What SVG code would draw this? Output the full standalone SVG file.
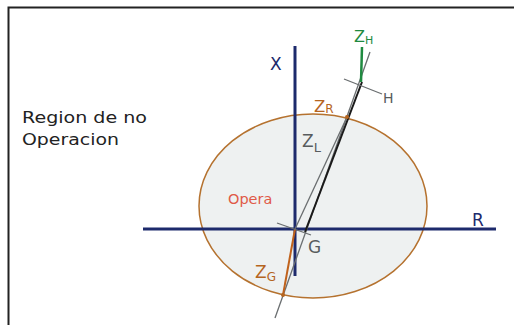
<svg xmlns="http://www.w3.org/2000/svg" width="514" height="325" viewBox="0 0 514 325">
<style>
text{font-family:"DejaVu Sans","Verdana",sans-serif}
.navy{fill:#1d2a6c}
.or{fill:#b5651f}
.gr{fill:#585c5e}
.grn{fill:#1f8a40}
.axis{stroke:#1d2a6c;stroke-width:3;fill:none}
.thin{stroke:#6a6e70;stroke-width:1.3;fill:none}
</style>
<rect width="514" height="325" fill="#ffffff"/>
<path d="M8.5,325 V7.5 H514" fill="none" stroke="#222" stroke-width="2"/>
<g id="region-label">
<text x="22" y="123" font-size="16.5" fill="#222" textLength="125" lengthAdjust="spacingAndGlyphs">Region de no</text>
<text x="22" y="145" font-size="16.5" fill="#222" textLength="97" lengthAdjust="spacingAndGlyphs">Operacion</text>
</g>
<g id="ellipse">
<ellipse cx="313" cy="206" rx="114" ry="92" fill="#eef1f1" stroke="#b5722f" stroke-width="1.5"/>
<text x="228" y="204" font-size="14.5" fill="#e05a48">Opera</text>
</g>
<g id="connectors">
<line class="axis" x1="295" y1="46" x2="295" y2="276"/>
<line class="axis" x1="143" y1="229" x2="496" y2="229"/>
<line class="thin" x1="370" y1="52" x2="275" y2="318"/>
<line x1="362" y1="82" x2="305" y2="232" stroke="#1a1a1a" stroke-width="2"/>
<line class="thin" x1="347" y1="117" x2="295" y2="229"/>
<line x1="295" y1="229" x2="283" y2="295" stroke="#c0621c" stroke-width="2"/>
<line x1="362" y1="47" x2="361" y2="82" stroke="#1f8a40" stroke-width="2.5"/>
<line class="thin" x1="344" y1="79" x2="382" y2="94"/>
<line class="thin" x1="277" y1="223" x2="311" y2="235"/>
<circle cx="347" cy="117" r="2" fill="#b5651f"/>
<circle cx="283" cy="295" r="2" fill="#b5651f"/>
</g>
<g id="labels">
<text x="270" y="70" font-size="17" class="navy">X</text>
<text x="472" y="226" font-size="17" class="navy">R</text>
<text x="354" y="42" font-size="16" class="grn">Z<tspan font-size="11" dy="1.5">H</tspan></text>
<text x="383" y="103" font-size="14" class="gr">H</text>
<text x="314" y="112" font-size="16.5" class="or">Z<tspan font-size="12" dy="1">R</tspan></text>
<text x="302" y="147" font-size="17" class="gr">Z<tspan font-size="13" dy="5">L</tspan></text>
<text x="308" y="253" font-size="17" class="gr">G</text>
<text x="255" y="278" font-size="17" class="or">Z<tspan font-size="12" dy="3">G</tspan></text>
</g>
</svg>
